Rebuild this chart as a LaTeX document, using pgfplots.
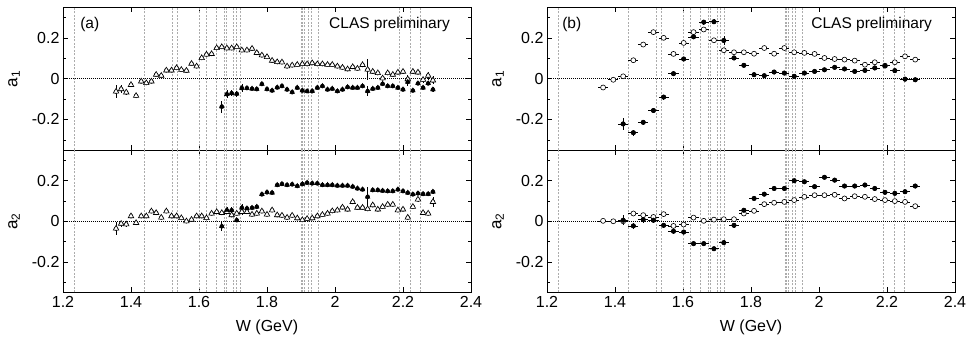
\documentclass[border=0pt]{standalone}
\usepackage{fontspec}
\setmainfont{Liberation Sans}
\usepackage{pgfplots}
\usepackage{pgfplotstable}
\pgfplotsset{compat=1.18}

% ---------- panel (a), a1 ----------
\pgfplotstableread{
x y ey
1.356 -0.063 0.030
1.371 -0.051 0.020
1.386 -0.067 0.012
1.400 -0.030 0.010
1.415 -0.084 0.008
1.430 -0.013 0.008
1.445 -0.021 0.008
1.460 -0.013 0.008
1.474 0.020 0.008
1.489 0.015 0.008
1.504 0.041 0.008
1.519 0.041 0.008
1.534 0.053 0.008
1.548 0.044 0.008
1.563 0.040 0.008
1.578 0.074 0.008
1.593 0.061 0.008
1.608 0.102 0.008
1.622 0.119 0.008
1.637 0.122 0.008
1.652 0.151 0.008
1.667 0.156 0.008
1.682 0.150 0.008
1.696 0.150 0.008
1.711 0.156 0.008
1.726 0.140 0.008
1.741 0.140 0.008
1.756 0.148 0.008
1.770 0.127 0.008
1.785 0.115 0.008
1.800 0.107 0.008
1.815 0.089 0.008
1.830 0.082 0.008
1.844 0.081 0.008
1.859 0.061 0.008
1.874 0.066 0.008
1.889 0.069 0.008
1.904 0.072 0.008
1.918 0.072 0.008
1.933 0.077 0.008
1.948 0.072 0.008
1.963 0.072 0.008
1.978 0.069 0.008
1.992 0.069 0.008
2.007 0.061 0.008
2.022 0.055 0.008
2.037 0.047 0.008
2.052 0.058 0.008
2.066 0.050 0.008
2.081 0.068 0.010
2.096 0.045 0.050
2.111 0.035 0.010
2.126 0.028 0.010
2.140 0.002 0.010
2.155 0.028 0.010
2.170 0.020 0.010
2.185 0.031 0.010
2.200 0.035 0.010
2.214 -0.002 0.020
2.229 0.035 0.010
2.244 0.031 0.010
2.259 -0.005 0.015
2.274 0.015 0.020
2.288 -0.008 0.020
}\aOneOpen

\pgfplotstableread{
x y ey
1.667 -0.137 0.030
1.682 -0.076 0.020
1.696 -0.071 0.015
1.711 -0.074 0.015
1.726 -0.046 0.020
1.741 -0.046 0.008
1.756 -0.049 0.008
1.770 -0.051 0.008
1.785 -0.026 0.008
1.800 -0.051 0.008
1.815 -0.058 0.008
1.830 -0.043 0.008
1.844 -0.036 0.008
1.859 -0.053 0.008
1.874 -0.066 0.008
1.889 -0.044 0.008
1.904 -0.058 0.008
1.918 -0.061 0.008
1.933 -0.061 0.008
1.948 -0.044 0.008
1.963 -0.036 0.008
1.978 -0.053 0.008
1.992 -0.049 0.008
2.007 -0.061 0.008
2.022 -0.053 0.008
2.037 -0.041 0.008
2.052 -0.044 0.008
2.066 -0.044 0.008
2.081 -0.036 0.008
2.096 -0.061 0.025
2.111 -0.049 0.008
2.126 -0.044 0.008
2.140 -0.025 0.008
2.155 -0.036 0.008
2.170 -0.036 0.008
2.185 -0.044 0.008
2.200 -0.053 0.008
2.214 -0.016 0.020
2.229 -0.058 0.008
2.244 -0.023 0.008
2.259 -0.044 0.008
2.274 -0.023 0.008
2.288 -0.053 0.012
}\aOneFilled

% ---------- panel (a), a2 ----------
\pgfplotstableread{
x y ey
1.356 -0.036 0.030
1.371 -0.012 0.015
1.386 -0.015 0.015
1.400 0.025 0.010
1.415 -0.008 0.008
1.430 0.025 0.008
1.445 0.025 0.008
1.460 0.049 0.008
1.474 0.041 0.008
1.489 0.018 0.008
1.504 0.049 0.008
1.519 0.025 0.008
1.534 0.025 0.008
1.548 0.016 0.008
1.563 0.000 0.008
1.578 0.008 0.008
1.593 0.025 0.008
1.608 0.025 0.008
1.622 0.016 0.008
1.637 0.038 0.008
1.652 0.046 0.008
1.667 0.041 0.008
1.682 0.046 0.008
1.696 0.030 0.008
1.711 0.038 0.008
1.726 0.046 0.015
1.741 0.046 0.008
1.756 0.033 0.008
1.770 0.038 0.008
1.785 0.049 0.008
1.800 0.033 0.008
1.815 0.054 0.008
1.830 0.030 0.008
1.844 0.028 0.008
1.859 0.018 0.008
1.874 0.028 0.008
1.889 0.015 0.008
1.904 0.006 0.008
1.918 0.012 0.008
1.933 0.015 0.008
1.948 0.025 0.008
1.963 0.032 0.008
1.978 0.038 0.008
1.992 0.050 0.008
2.007 0.054 0.008
2.022 0.068 0.008
2.037 0.058 0.008
2.052 0.095 0.008
2.066 0.067 0.008
2.081 0.067 0.008
2.096 0.060 0.010
2.111 0.079 0.008
2.126 0.058 0.008
2.140 0.071 0.008
2.155 0.082 0.008
2.170 0.082 0.008
2.185 0.054 0.008
2.200 0.058 0.008
2.214 0.018 0.008
2.229 0.071 0.008
2.244 0.107 0.010
2.259 0.041 0.008
2.274 0.038 0.008
2.288 0.095 0.025
}\aTwoOpen

\pgfplotstableread{
x y ey
1.667 -0.025 0.025
1.682 0.054 0.015
1.696 0.054 0.015
1.711 0.005 0.010
1.726 0.066 0.020
1.741 0.063 0.008
1.756 0.066 0.008
1.770 0.071 0.008
1.785 0.132 0.008
1.800 0.142 0.008
1.815 0.140 0.008
1.830 0.178 0.008
1.844 0.183 0.008
1.859 0.178 0.008
1.874 0.181 0.008
1.889 0.173 0.008
1.904 0.183 0.008
1.918 0.189 0.008
1.933 0.186 0.008
1.948 0.186 0.008
1.963 0.178 0.008
1.978 0.178 0.008
1.992 0.178 0.008
2.007 0.175 0.008
2.022 0.175 0.008
2.037 0.175 0.008
2.052 0.170 0.008
2.066 0.161 0.008
2.081 0.156 0.008
2.096 0.120 0.050
2.111 0.153 0.008
2.126 0.153 0.008
2.140 0.150 0.008
2.155 0.148 0.008
2.170 0.148 0.008
2.185 0.156 0.008
2.200 0.148 0.008
2.214 0.140 0.008
2.229 0.132 0.008
2.244 0.137 0.008
2.259 0.134 0.008
2.274 0.134 0.008
2.288 0.145 0.010
}\aTwoFilled

% ---------- panel (b), a1 ----------
\pgfplotstableread{
x y ey
1.365 -0.043 0.010
1.395 -0.005 0.010
1.424 0.012 0.010
1.454 0.091 0.010
1.483 0.168 0.010
1.513 0.229 0.010
1.543 0.201 0.010
1.572 0.122 0.010
1.602 0.176 0.010
1.631 0.229 0.010
1.661 0.242 0.010
1.691 0.189 0.010
1.720 0.140 0.010
1.750 0.130 0.010
1.779 0.130 0.010
1.809 0.123 0.010
1.839 0.151 0.010
1.868 0.123 0.010
1.898 0.151 0.010
1.927 0.130 0.010
1.957 0.127 0.010
1.987 0.122 0.010
2.016 0.102 0.010
2.046 0.097 0.010
2.075 0.094 0.010
2.105 0.089 0.010
2.135 0.069 0.010
2.164 0.081 0.010
2.194 0.064 0.010
2.223 0.081 0.010
2.253 0.110 0.010
2.283 0.094 0.010
}\bOneOpen

\pgfplotstableread{
x y ey
1.424 -0.222 0.030
1.454 -0.265 0.015
1.483 -0.214 0.012
1.513 -0.156 0.012
1.543 -0.090 0.012
1.572 0.025 0.012
1.602 0.097 0.012
1.631 0.206 0.012
1.661 0.278 0.012
1.691 0.280 0.012
1.720 0.188 0.020
1.750 0.102 0.012
1.779 0.066 0.010
1.809 0.020 0.010
1.839 0.015 0.010
1.868 0.033 0.010
1.898 0.028 0.010
1.927 0.012 0.010
1.957 0.028 0.010
1.987 0.036 0.010
2.016 0.044 0.010
2.046 0.056 0.010
2.075 0.048 0.010
2.105 0.036 0.010
2.135 0.041 0.010
2.164 0.053 0.010
2.194 0.064 0.010
2.223 0.040 0.010
2.253 -0.002 0.010
2.283 -0.005 0.010
}\bOneFilled

% ---------- panel (b), a2 ----------
\pgfplotstableread{
x y ey
1.365 0.002 0.010
1.395 0.000 0.010
1.424 0.000 0.010
1.454 0.038 0.010
1.483 0.030 0.010
1.513 0.021 0.010
1.543 0.035 0.010
1.572 -0.023 0.010
1.602 -0.016 0.010
1.631 0.018 0.010
1.661 0.002 0.010
1.691 0.008 0.010
1.720 0.010 0.010
1.750 0.010 0.010
1.779 0.038 0.010
1.809 0.051 0.010
1.839 0.084 0.010
1.868 0.091 0.010
1.898 0.095 0.010
1.927 0.104 0.010
1.957 0.120 0.010
1.987 0.128 0.010
2.016 0.128 0.010
2.046 0.130 0.010
2.075 0.112 0.010
2.105 0.123 0.010
2.135 0.120 0.010
2.164 0.109 0.010
2.194 0.104 0.010
2.223 0.099 0.010
2.253 0.095 0.010
2.283 0.074 0.010
}\bTwoOpen

\pgfplotstableread{
x y ey
1.424 0.005 0.025
1.454 -0.023 0.015
1.483 0.008 0.015
1.513 0.005 0.012
1.543 -0.020 0.012
1.572 -0.049 0.012
1.602 -0.053 0.012
1.631 -0.110 0.010
1.661 -0.110 0.010
1.691 -0.135 0.010
1.720 -0.105 0.012
1.750 -0.020 0.012
1.779 0.054 0.012
1.809 0.112 0.010
1.839 0.133 0.010
1.868 0.161 0.010
1.898 0.161 0.010
1.927 0.199 0.010
1.957 0.194 0.010
1.987 0.170 0.010
2.016 0.216 0.010
2.046 0.202 0.010
2.075 0.173 0.010
2.105 0.173 0.010
2.135 0.178 0.010
2.164 0.161 0.010
2.194 0.142 0.010
2.223 0.137 0.010
2.253 0.145 0.010
2.283 0.173 0.010
}\bTwoFilled

\newcommand{\reslines}{%
  \pgfplotsinvokeforeach{1.232,1.44,1.52,1.535,1.60,1.62,1.65,1.675,1.68,1.70,1.71,1.72,1.90,1.905,1.91,1.92,1.93,1.95,2.19,2.22,2.25}{%
    \addplot[gray!65, line width=0.5pt, dash pattern=on 2pt off 1.5pt, forget plot] coordinates {(##1,-0.35) (##1,0.35)};
  }%
  \addplot[black, line width=0.6pt, dash pattern=on 1pt off 1pt, forget plot] coordinates {(1.2,0) (2.4,0)};
}

\tikzset{lab/.style={font=\fontsize{15.5}{15.5}\selectfont, inner sep=0pt}}

\pgfplotsset{
  panel/.style={
    scale only axis, width=408pt, height=142.5pt,
    xmin=1.2, xmax=2.4, ymin=-0.35, ymax=0.35,
    xtick={1.2,1.4,1.6,1.8,2.0,2.2,2.4},
    ytick={-0.2,0,0.2},
    minor ytick={-0.3,-0.1,0.1,0.3},
    yticklabels={-0.2,0,0.2},
    tick align=inside,
    major tick length=5pt, minor tick length=3pt,
    tick style={black, line width=0.6pt},
    axis line style={line width=0.9pt},
    ticklabel style={font=\fontsize{16}{16}\selectfont},
    ylabel style={font=\fontsize{17}{17}\selectfont, at={(axis description cs:-0.12,0.5)}, anchor=center},
    xlabel style={font=\fontsize{16}{16}\selectfont, at={(axis description cs:0.5,-0.245)}, anchor=center},
    anchor=south west,
  },
  toppanel/.style={panel, xticklabels={}, ylabel={a\textsubscript{1}}},
  botpanel/.style={panel, xticklabels={1.2,1.4,1.6,1.8,2,2.2,2.4}, xlabel={W (GeV)}, ylabel={a\textsubscript{2}}},
  erry/.style={black, only marks, mark=none, forget plot,
    error bars/.cd, y dir=both, y explicit, error mark=none, error bar style={black, line width=0.6pt}},
  errxy/.style={black, only marks, mark=none, forget plot,
    error bars/.cd, y dir=both, y explicit, x dir=both, x fixed=0.015, error mark=none, error bar style={black, line width=0.6pt}},
  opentri/.style={only marks, mark=triangle*, mark size=3.2pt, mark options={fill=white, draw=black, line width=0.6pt}},
  filltri/.style={only marks, mark=triangle*, mark size=2.8pt, mark options={fill=black, draw=black, line width=0.3pt}},
  opencirc/.style={only marks, mark=*, mark size=2.5pt, mark options={fill=white, draw=black, line width=0.6pt}},
  fillcirc/.style={only marks, mark=*, mark size=2.3pt, mark options={fill=black, draw=black}},
}

\begin{document}
\begin{tikzpicture}
\useasboundingbox (0,0) rectangle (969pt,340pt);
% (a) top
\begin{axis}[toppanel, at={(63pt,190pt)}]
\reslines
\addplot[erry] table[x=x, y=y, y error=ey] {\aOneOpen};
\addplot[erry] table[x=x, y=y, y error=ey] {\aOneFilled};
\addplot[opentri] table[x=x, y=y] {\aOneOpen};
\addplot[filltri] table[x=x, y=y] {\aOneFilled};
\node[lab, anchor=base west] at (rel axis cs:0.042,0.85) {(a)};
\node[lab, anchor=base east] at (rel axis cs:0.9485,0.85) {CLAS preliminary};
\end{axis}
% (a) bottom
\begin{axis}[botpanel, at={(63pt,47.5pt)}]
\reslines
\addplot[erry] table[x=x, y=y, y error=ey] {\aTwoOpen};
\addplot[erry] table[x=x, y=y, y error=ey] {\aTwoFilled};
\addplot[opentri] table[x=x, y=y] {\aTwoOpen};
\addplot[filltri] table[x=x, y=y] {\aTwoFilled};
\end{axis}
% (b) top
\begin{axis}[toppanel, at={(547pt,190pt)}]
\reslines
\addplot[errxy] table[x=x, y=y, y error=ey] {\bOneOpen};
\addplot[errxy] table[x=x, y=y, y error=ey] {\bOneFilled};
\addplot[opencirc] table[x=x, y=y] {\bOneOpen};
\addplot[fillcirc] table[x=x, y=y] {\bOneFilled};
\node[lab, anchor=base west] at (rel axis cs:0.037,0.85) {(b)};
\node[lab, anchor=base east] at (rel axis cs:0.944,0.85) {CLAS preliminary};
\end{axis}
% (b) bottom
\begin{axis}[botpanel, at={(547pt,47.5pt)}]
\reslines
\addplot[errxy] table[x=x, y=y, y error=ey] {\bTwoOpen};
\addplot[errxy] table[x=x, y=y, y error=ey] {\bTwoFilled};
\addplot[opencirc] table[x=x, y=y] {\bTwoOpen};
\addplot[fillcirc] table[x=x, y=y] {\bTwoFilled};
\end{axis}
\end{tikzpicture}
\end{document}
